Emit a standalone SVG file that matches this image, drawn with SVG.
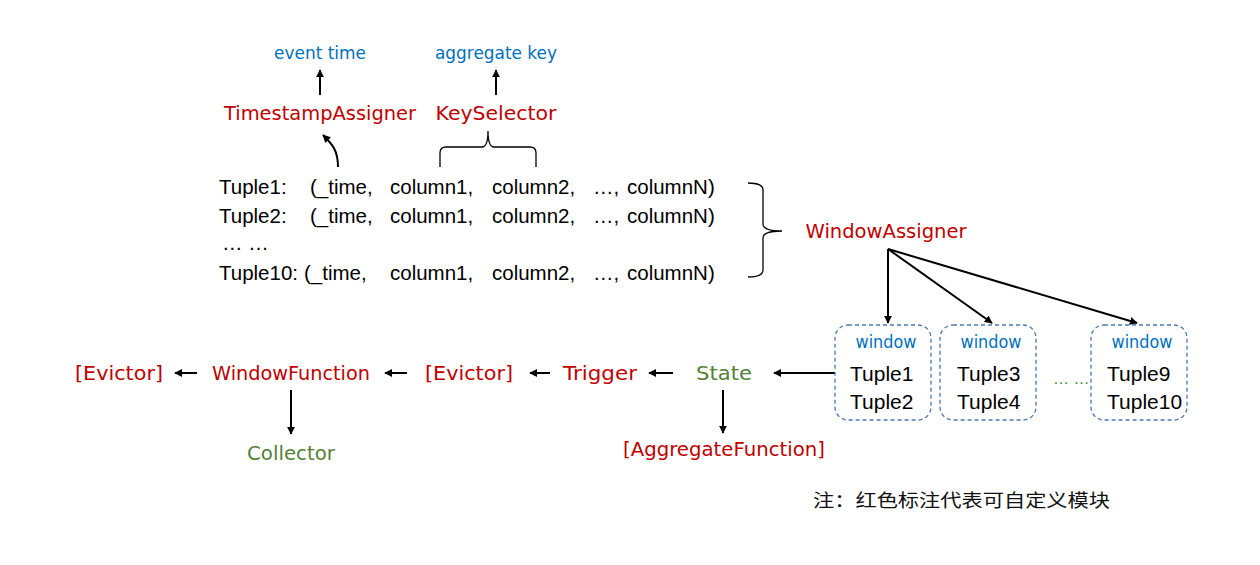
<svg xmlns="http://www.w3.org/2000/svg" width="1260" height="565" viewBox="0 0 1260 565">
<defs>
<marker id="ah" viewBox="0 0 10 10" refX="9" refY="5" markerWidth="8" markerHeight="8" orient="auto" markerUnits="userSpaceOnUse">
<path d="M0,0 L10,5 L0,10 Z" fill="#000"/>
</marker>
<style>
.c{font-family:"DejaVu Sans","Liberation Sans",sans-serif;}
.red{fill:#c00000;font-size:20px;}
.grn{fill:#538135;font-size:20px;}
.blu{fill:#0070c0;font-size:17px;}
.t{font-family:"Liberation Sans","Open Sans",sans-serif;fill:#000;font-size:20.5px;}
.tb{font-family:"Liberation Sans","Open Sans",sans-serif;fill:#000;font-size:21px;}
.ln{stroke:#000;stroke-width:2;fill:none;}
.box{fill:none;stroke:#4a78ad;stroke-width:1.3;stroke-dasharray:4 3;}
.note{font-family:"Noto Sans CJK SC",sans-serif;font-size:18px;fill:#111;}
</style>
</defs>
<rect width="1260" height="565" fill="#fff"/>

<g id="connectors">
<line class="ln" x1="320" y1="95" x2="320" y2="70" marker-end="url(#ah)"/>
<line class="ln" x1="496" y1="95" x2="496" y2="70" marker-end="url(#ah)"/>
<path class="ln" d="M338,167 C338,150 332,144 323,135" marker-end="url(#ah)"/>
<path d="M440,167 L440,153 Q440,147 446,147 L482,147 Q488,147 488,131 Q488,147 494,147 L530,147 Q536,147 536,153 L536,167" fill="none" stroke="#000" stroke-width="1.3"/>
<path d="M748,183 Q763,183 763,190 L763,224 Q763,231 782,231 Q763,231 763,238 L763,270 Q763,277 748,277" fill="none" stroke="#000" stroke-width="1.3"/>
<line class="ln" x1="888" y1="249" x2="888" y2="323" marker-end="url(#ah)"/>
<line class="ln" x1="888" y1="249" x2="992" y2="323" marker-end="url(#ah)"/>
<line class="ln" x1="888" y1="249" x2="1137" y2="323" marker-end="url(#ah)"/>
<line class="ln" x1="835" y1="373" x2="774" y2="373" marker-end="url(#ah)"/>
<line class="ln" x1="673" y1="373" x2="649" y2="373" marker-end="url(#ah)"/>
<line class="ln" x1="550" y1="373" x2="530" y2="373" marker-end="url(#ah)"/>
<line class="ln" x1="407" y1="373" x2="385" y2="373" marker-end="url(#ah)"/>
<line class="ln" x1="197" y1="373" x2="175" y2="373" marker-end="url(#ah)"/>
<line class="ln" x1="291" y1="390" x2="291" y2="434" marker-end="url(#ah)"/>
<line class="ln" x1="723" y1="390" x2="723" y2="433" marker-end="url(#ah)"/>
</g>

<g id="event-time"><text class="c blu" x="320" y="59" text-anchor="middle" textLength="92" lengthAdjust="spacingAndGlyphs">event time</text></g>
<g id="aggregate-key"><text class="c blu" x="496" y="59" text-anchor="middle" textLength="122" lengthAdjust="spacingAndGlyphs">aggregate key</text></g>
<g id="timestamp-assigner"><text class="c red" x="320" y="120" text-anchor="middle" textLength="192" lengthAdjust="spacingAndGlyphs">TimestampAssigner</text></g>
<g id="key-selector"><text class="c red" x="496" y="120" text-anchor="middle" textLength="121" lengthAdjust="spacingAndGlyphs">KeySelector</text></g>

<g id="tuples">
<text class="t" y="194"><tspan x="219">Tuple1:</tspan><tspan x="310">(_time,</tspan><tspan x="390">column1,</tspan><tspan x="492">column2,</tspan><tspan x="593">…,</tspan><tspan x="627">columnN)</tspan></text>
<text class="t" y="223"><tspan x="219">Tuple2:</tspan><tspan x="310">(_time,</tspan><tspan x="390">column1,</tspan><tspan x="492">column2,</tspan><tspan x="593">…,</tspan><tspan x="627">columnN)</tspan></text>
<text class="t" x="222" y="250">… …</text>
<text class="t" y="280"><tspan x="219">Tuple10:</tspan><tspan x="304">(_time,</tspan><tspan x="390">column1,</tspan><tspan x="492">column2,</tspan><tspan x="593">…,</tspan><tspan x="627">columnN)</tspan></text>
</g>

<g id="window-assigner"><text class="c red" x="886" y="238" text-anchor="middle" textLength="161" lengthAdjust="spacingAndGlyphs">WindowAssigner</text></g>

<g id="window1">
<rect class="box" x="835" y="325" width="96" height="95" rx="13"/>
<text class="c blu" x="886" y="348" text-anchor="middle" textLength="61" lengthAdjust="spacingAndGlyphs">window</text>
<text class="tb" x="850" y="381">Tuple1</text>
<text class="tb" x="850" y="409">Tuple2</text>
</g>
<g id="window2">
<rect class="box" x="940" y="325" width="96" height="95" rx="13"/>
<text class="c blu" x="991" y="348" text-anchor="middle" textLength="61" lengthAdjust="spacingAndGlyphs">window</text>
<text class="tb" x="957" y="381">Tuple3</text>
<text class="tb" x="957" y="409">Tuple4</text>
</g>
<g id="ellipsis"><text x="1053" y="384" style="font-family:'Liberation Sans',sans-serif;font-size:16px;fill:#538135">… …</text></g>
<g id="window3">
<rect class="box" x="1091" y="325" width="96" height="95" rx="13"/>
<text class="c blu" x="1142" y="348" text-anchor="middle" textLength="61" lengthAdjust="spacingAndGlyphs">window</text>
<text class="tb" x="1107" y="381">Tuple9</text>
<text class="tb" x="1107" y="409">Tuple10</text>
</g>

<g id="state"><text class="c grn" x="724" y="380" text-anchor="middle" textLength="56" lengthAdjust="spacingAndGlyphs">State</text></g>
<g id="trigger"><text class="c red" x="600" y="380" text-anchor="middle" textLength="74" lengthAdjust="spacingAndGlyphs">Trigger</text></g>
<g id="evictor2"><text class="c red" x="469" y="380" text-anchor="middle" textLength="88" lengthAdjust="spacingAndGlyphs">[Evictor]</text></g>
<g id="window-function"><text class="c red" x="291" y="380" text-anchor="middle" textLength="158" lengthAdjust="spacingAndGlyphs">WindowFunction</text></g>
<g id="evictor1"><text class="c red" x="119" y="380" text-anchor="middle" textLength="88" lengthAdjust="spacingAndGlyphs">[Evictor]</text></g>
<g id="collector"><text class="c grn" x="291" y="460" text-anchor="middle" textLength="88" lengthAdjust="spacingAndGlyphs">Collector</text></g>
<g id="aggregate-function"><text class="c red" x="724" y="456" text-anchor="middle" textLength="202" lengthAdjust="spacingAndGlyphs">[AggregateFunction]</text></g>

<g id="note"><text class="note" x="813" y="507" textLength="297" lengthAdjust="spacingAndGlyphs">注：红色标注代表可自定义模块</text></g>
</svg>
